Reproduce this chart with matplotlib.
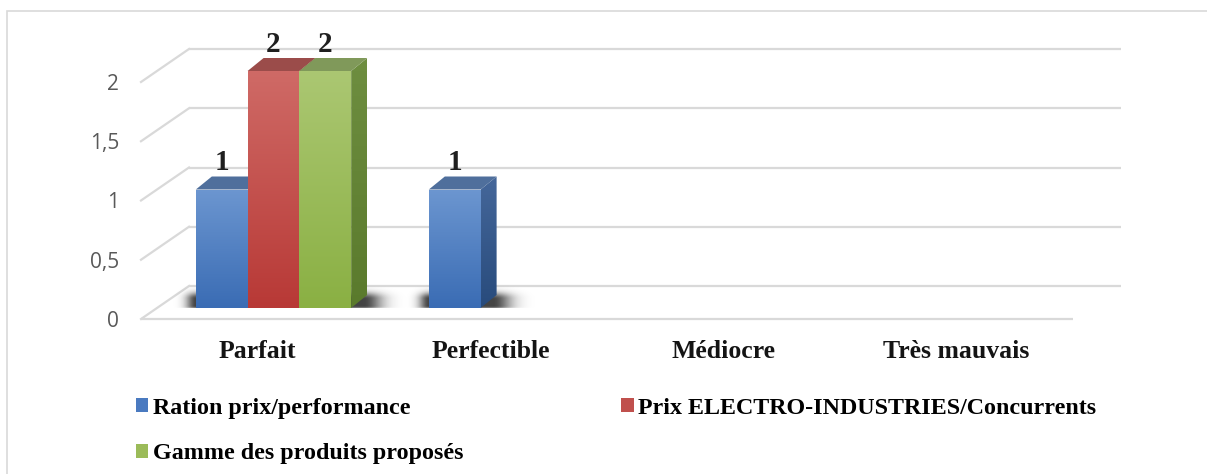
import numpy as np
import matplotlib
matplotlib.use("Agg")
import matplotlib.pyplot as plt
from matplotlib.patches import Polygon, Rectangle, Patch
from matplotlib.colors import LinearSegmentedColormap
from matplotlib.transforms import ScaledTranslation

# ---- data -------------------------------------------------------------
categories = ["Parfait", "Perfectible", "Médiocre", "Très mauvais"]
series_names = [
    "Ration prix/performance",
    "Prix ELECTRO-INDUSTRIES/Concurrents",
    "Gamme des produits proposés",
]
ratio_prix_perf = [1, 1, 0, 0]
prix_vs_concurrents = [2, 0, 0, 0]
gamme_produits = [2, 0, 0, 0]
y_ticks = [0, 0.5, 1, 1.5, 2]
y_tick_labels = ["0", "0,5", "1", "1,5", "2"]

series_values = [ratio_prix_perf, prix_vs_concurrents, gamme_produits]

# colours per series: front (top, bottom), side (top, bottom), top face
palette = [
    dict(front=("#6c96d0", "#3a6cb4"), side=("#45679a", "#284b7c"), top="#4f6f9c", legend="#4a7ac0"),
    dict(front=("#cf6a66", "#b83936"), side=("#8e3a37", "#7a2c2a"), top="#9b4c4a", legend="#c0504d"),
    dict(front=("#abc772", "#8ab043"), side=("#6e8e40", "#5a7a2c"), top="#80995a", legend="#9bbb59"),
]

# ---- figure / axes ----------------------------------------------------
W, H = 1207, 474
DPI = 100
fig = plt.figure(figsize=(W / DPI, H / DPI), dpi=DPI)
fig.patch.set_facecolor("white")

PX_PER_UNIT = 118.5
Y_MAX = 2.5
ax = fig.add_axes([157 / W, 166 / H, 932 / W, Y_MAX * PX_PER_UNIT / H])
ax.set_xlim(-0.5, 3.5)
ax.set_ylim(0, Y_MAX)
ax.set_autoscale_on(False)
ax.patch.set_alpha(0)
for sp in ax.spines.values():
    sp.set_visible(False)

# outer chart frame (only top and left edges fall inside the canvas)
fig.add_artist(Rectangle((7 / W, -0.1), 2, (H - 11) / H + 0.1,
                         transform=fig.transFigure, fill=False,
                         ec="#d9d9d9", lw=1.2))


def px_to_data(dx, dy):
    """Convert a pixel displacement into data units."""
    o = ax.transData.transform((0, 0))
    p = ax.transData.inverted().transform(o + np.array([dx, dy]))
    return p[0], p[1]


def px_shift(dx, dy):
    return ScaledTranslation(dx / DPI, dy / DPI, fig.dpi_scale_trans)


# depth of the pseudo-3D walls and bars (pixels)
FRONT = (-16, -11)   # front edge of the floor relative to the bar plane
BACK = (32, 22)      # back wall relative to the bar plane
BAR_DEPTH = (16, 13)

fdx, fdy = px_to_data(*FRONT)
bdx, bdy = px_to_data(*BACK)
ddx, ddy = px_to_data(*BAR_DEPTH)

GRID = "#d9d9d9"
x_lo, x_hi = ax.get_xlim()
for v in y_ticks:
    # back-wall gridline
    ax.plot([x_lo + bdx, x_hi + bdx], [v + bdy, v + bdy], color=GRID,
            lw=1.6, zorder=1, clip_on=False, solid_capstyle="butt")
    # side-wall diagonal
    ax.plot([x_lo + fdx, x_lo + bdx], [v + fdy, v + bdy], color=GRID,
            lw=1.6, zorder=1, clip_on=False)
# front edge of the floor
ax.plot([x_lo + fdx, x_hi + fdx], [fdy, fdy], color=GRID, lw=1.6,
        zorder=1, clip_on=False, solid_capstyle="butt")

# ---- bars ---------------------------------------------------------------
n_series = len(series_values)
group_width = 2 / 3
bar_w = group_width / n_series
x = np.arange(len(categories))


def gradient_fill(patch, top, bottom, z):
    ax.add_patch(patch)
    ext = patch.get_path().get_extents(patch.get_patch_transform()
                                       if isinstance(patch, Rectangle) else None)
    cmap = LinearSegmentedColormap.from_list("g", [bottom, top])
    img = ax.imshow(np.linspace(0, 1, 128).reshape(-1, 1),
                    extent=(ext.x0, ext.x1, ext.y0, ext.y1), origin="lower",
                    cmap=cmap, aspect="auto", zorder=z,
                    interpolation="bilinear")
    img.set_clip_box(None)
    img.set_clip_path(patch)


# soft floor shadows under each group of bars
for k in range(len(categories)):
    idx = [i for i in range(n_series) if series_values[i][k] > 0]
    if not idx:
        continue
    xl = x[k] - group_width / 2 + idx[0] * bar_w
    xr = x[k] - group_width / 2 + (idx[-1] + 1) * bar_w
    wpx = (xr - xl) / px_to_data(1, 0)[0]
    ex0, ex1, ey0, ey1 = -35, wpx + 75, -8, 32
    gx, gy = np.meshgrid(np.linspace(ex0, ex1, 600), np.linspace(ey0, ey1, 160))
    core_r = wpx + 12
    dxo = np.maximum(0, -gx) / 7.0 + np.maximum(0, gx - core_r) / 13.0
    dyo = np.maximum(0, 2 - gy) / 2.0 + np.maximum(0, gy - 9) / 4.5
    alpha = 0.8 * np.exp(-(dxo ** 2 + dyo ** 2) / 2)
    rgba = np.zeros(alpha.shape + (4,))
    rgba[..., :3] = 0.08
    rgba[..., 3] = alpha
    sx0, sy0 = px_to_data(ex0, ey0)
    sx1, sy1 = px_to_data(ex1, ey1)
    ax.imshow(rgba, extent=(xl + sx0, xl + sx1, sy0, sy1), origin="lower",
              aspect="auto", zorder=2, interpolation="bilinear")

z = 3
for k in range(len(categories)):
    for i in range(n_series):
        v = series_values[i][k]
        if v <= 0:
            continue
        c = palette[i]
        x0 = x[k] - group_width / 2 + i * bar_w
        x1 = x0 + bar_w
        front = ax.bar(x0, v, width=bar_w, align="edge", color="none",
                       edgecolor="none", zorder=z)[0]
        gradient_fill(Rectangle((x0, 0), bar_w, v, fc="none", ec="none"),
                      c["front"][0], c["front"][1], z)
        side = Polygon([(x1, 0), (x1 + ddx, ddy), (x1 + ddx, v + ddy), (x1, v)],
                       closed=True, fc="none", ec="none")
        gradient_fill(side, c["side"][0], c["side"][1], z)
        top = Polygon([(x0, v), (x0 + ddx, v + ddy), (x1 + ddx, v + ddy), (x1, v)],
                      closed=True, fc=c["top"], ec="none", zorder=z)
        ax.add_patch(top)
        z += 1
        ax.annotate(f"{v:g}", (x0 + bar_w / 2, v), xytext=(0, 19 * 0.72),
                    textcoords="offset points", ha="center", va="baseline",
                    fontfamily="Liberation Serif", fontweight="bold",
                    fontsize=21, color="#1f1f1f", zorder=20,
                    annotation_clip=False)

ax.set_xlim(-0.5, 3.5)
ax.set_ylim(0, Y_MAX)

# ---- axes labels --------------------------------------------------------
ax.set_yticks(y_ticks)
ax.set_yticklabels(y_tick_labels, fontfamily="Open Sans", fontsize=15,
                   color="#595959")
ax.tick_params(axis="y", length=0, pad=22 * 0.72)
for lbl in ax.get_yticklabels():
    lbl.set_transform(lbl.get_transform() + px_shift(*FRONT))

ax.set_xticks(x)
ax.set_xticklabels(categories, fontfamily="Liberation Serif",
                   fontweight="bold", fontsize=18.5, color="#141414")
ax.tick_params(axis="x", length=0, pad=21 * 0.72)
for lbl in ax.get_xticklabels():
    lbl.set_transform(lbl.get_transform() + px_shift(*FRONT))

# ---- legend -------------------------------------------------------------
handles = [Patch(fc=palette[i]["legend"], ec="none", label=series_names[i])
           for i in range(n_series)]
order = [0, 2, 1]
fig.legend([handles[i] for i in order], [series_names[i] for i in order],
           loc="upper left", bbox_to_anchor=(136 / W, 1 - 398 / H),
           ncol=2, frameon=False, borderpad=0, borderaxespad=0,
           handlelength=0.52, handleheight=0.52, handletextpad=0.2,
           columnspacing=6.55, labelspacing=1.0,
           prop=dict(family="Liberation Serif", weight="bold", size=17.3))

fig.savefig("out.png", dpi=DPI, facecolor="white")
